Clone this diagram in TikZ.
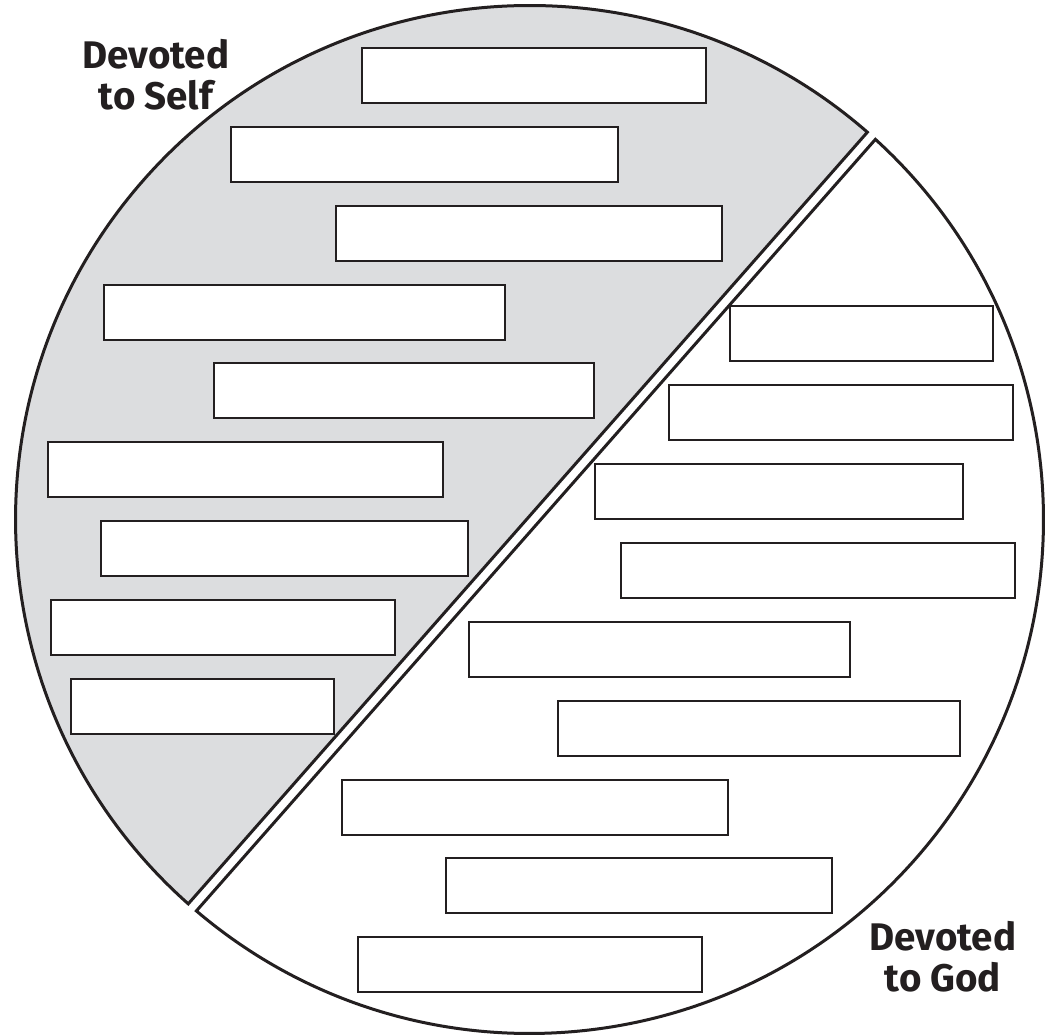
\documentclass[tikz,border=0pt]{standalone}
\usepackage{fontspec}
\setmainfont{Fira Sans}
\usepackage{tikz}
\definecolor{selfgrey}{RGB}{220,221,223}
\definecolor{inkblack}{RGB}{35,31,32}

\begin{document}
\begin{tikzpicture}[x=1pt, y=-1pt, line join=miter,
    answer/.style={draw=inkblack, line width=2pt, fill=white},
    half/.style={draw=inkblack, line width=3pt},
    tag/.style={text=inkblack, font=\fontsize{38.5}{41}\selectfont\bfseries,
                align=center, inner sep=0pt, anchor=base}]

\def\R{514}
\def\h{55}

\useasboundingbox (0,0) rectangle (1050,1036);
\coordinate (ctr) at (529.5, 519.5);

% Moitie grise : devoted to self
\draw[half, fill=selfgrey]
    ([shift={(-48.9:\R)}]ctr) arc[start angle=-48.9, end angle=-228.4, radius=\R] -- cycle;

% Moitie blanche : devoted to God
\draw[half, fill=white]
    ([shift={(-47.7:\R)}]ctr) arc[start angle=-47.7, end angle=130.4, radius=\R] -- cycle;

% Cases a gauche
\foreach \xa/\ya/\xb in {362/48/706, 231/127/618, 336/206/722, 104/285/505,
                         214/363/594, 48/442/443, 101/521/468, 51/600/395, 71/679/334} {
    \draw[answer] (\xa, \ya) rectangle (\xb, \ya+\h);
}

% Cases a droite
\foreach \xa/\ya/\xb in {730/306/993, 669/385/1013, 595/464/963, 621/543/1015,
                         469/622/850, 558/701/960, 342/780/728, 446/858/832, 358/937/702} {
    \draw[answer] (\xa, \ya) rectangle (\xb, \ya+\h);
}

% Titres (base = derniere ligne)
\node[tag] (selflbl) at (156, 109) {Devoted\\to Self};
\node[tag] (godlbl) at (943, 991) {Devoted\\to God};

\end{tikzpicture}
\end{document}
